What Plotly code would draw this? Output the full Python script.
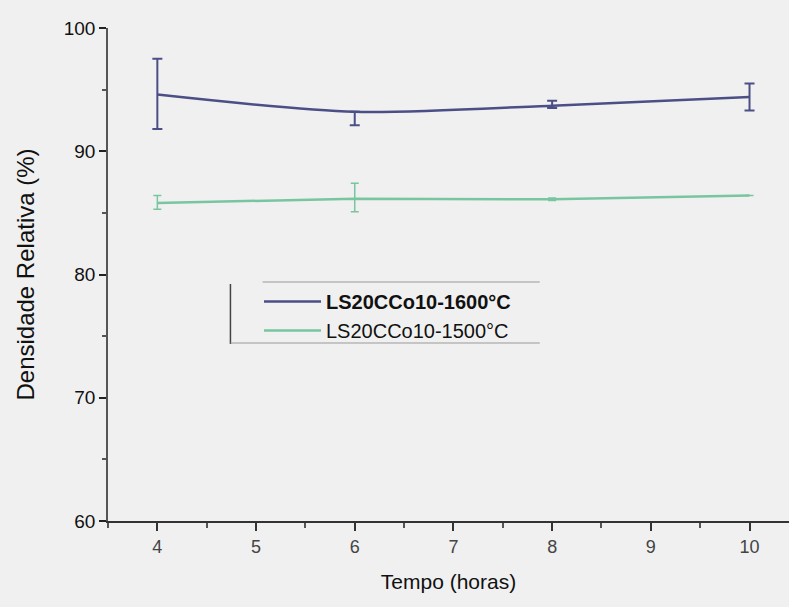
import plotly.graph_objects as go

tempo = [4, 6, 8, 10]
dens_1600 = [94.6, 93.2, 93.7, 94.4]
err_1600_plus = [2.9, 0.0, 0.4, 1.1]
err_1600_minus = [2.8, 1.1, 0.2, 1.1]
dens_1500 = [85.8, 86.15, 86.1, 86.4]
err_1500_plus = [0.6, 1.25, 0.1, 0.0]
err_1500_minus = [0.5, 1.05, 0.1, 0.0]
names = ["<b>LS20CCo10-1600°C</b>", "LS20CCo10-1500°C"]
xticks = [4, 5, 6, 7, 8, 9, 10]
yticks = [60, 70, 80, 90, 100]

blue = "#4b4f86"
green = "#78c6a0"

fig = go.Figure()
fig.add_trace(go.Scatter(
    x=tempo, y=dens_1600, name=names[0], mode="lines",
    line=dict(color=blue, width=2.5, shape="spline", smoothing=0.8),
    error_y=dict(type="data", symmetric=False, array=err_1600_plus,
                 arrayminus=err_1600_minus, color=blue, thickness=2, width=5),
))
fig.add_trace(go.Scatter(
    x=tempo, y=dens_1500, name=names[1], mode="lines",
    line=dict(color=green, width=2.5),
    error_y=dict(type="data", symmetric=False, array=err_1500_plus,
                 arrayminus=err_1500_minus, color=green, thickness=1.5, width=4),
))

font_family = "Liberation Sans, Arial"
fig.update_layout(
    width=789, height=607,
    margin=dict(l=108, r=0, t=28, b=86),
    paper_bgcolor="#f0f0f0", plot_bgcolor="#f0f0f0",
    font=dict(family=font_family, size=18, color="#111"),
    showlegend=True,
    legend=dict(x=0.2217, y=0.485, xanchor="left", yanchor="top",
                bgcolor="rgba(0,0,0,0)", borderwidth=0,
                font=dict(family=font_family, size=20, color="#111"),
                itemwidth=57, tracegroupgap=0),
    xaxis=dict(range=[3.5, 10.4], tickvals=xticks, showgrid=False, zeroline=False,
               showline=True, linecolor="#333", linewidth=2,
               ticks="outside", ticklen=8, tickwidth=1.5, tickcolor="#333",
               minor=dict(dtick=0.5, tick0=3.5, ticks="outside", ticklen=5, tickcolor="#555"),
               title=dict(text="Tempo (horas)", font=dict(size=21, color="#111"), standoff=19),
               tickfont=dict(size=18, color="#444")),
    yaxis=dict(range=[60, 100], tickvals=yticks, showgrid=False, zeroline=False,
               showline=True, linecolor="#555", linewidth=1.5,
               ticks="outside", ticklen=7, tickwidth=1.5, tickcolor="#222",
               minor=dict(dtick=5, tick0=60, ticks="outside", ticklen=4, tickcolor="#555"),
               title=dict(text="Densidade Relativa (%)", font=dict(size=24, color="#111"), standoff=22),
               tickfont=dict(size=19, color="#111")),
    shapes=[
        dict(type="line", xref="paper", yref="paper", x0=0.1798, x1=0.1798,
             y0=1 - (284 - 28) / 493, y1=1 - (344 - 28) / 493, line=dict(color="#444", width=1.5)),
        dict(type="line", xref="paper", yref="paper", x0=0.227, x1=0.634,
             y0=1 - (282 - 28) / 493, y1=1 - (282 - 28) / 493, line=dict(color="#999", width=1)),
        dict(type="line", xref="paper", yref="paper", x0=0.1798, x1=0.634,
             y0=1 - (343 - 28) / 493, y1=1 - (343 - 28) / 493, line=dict(color="#999", width=1)),
    ],
)

fig.write_html("out.html")
